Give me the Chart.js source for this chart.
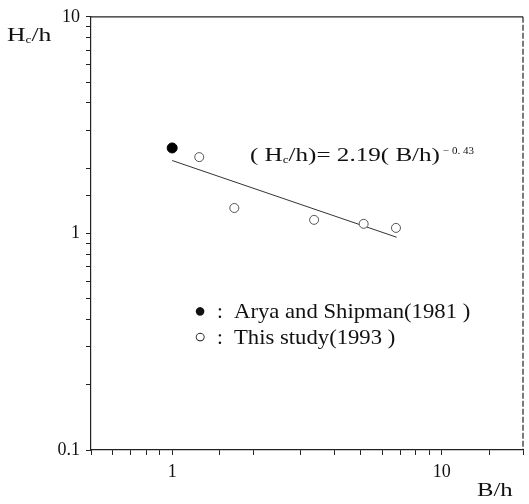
<!DOCTYPE html>
<html>
  <head>
    <script src="https://cdn.jsdelivr.net/npm/chart.js"></script>
    <style>
      body { margin: 0; background: #fff; }
      #wrap { width: 529px; height: 504px; }
    </style>
  </head>

  <body>
    <div id="wrap"><canvas id="plot" width="529" height="504"></canvas></div>
  </body>

  <script>
    // Arya and Shipman (1981)
    const arya_x = [1.0];
    const arya_y = [2.48];
    // This study (1993)
    const study_x = [1.26, 1.70, 3.36, 5.13, 6.76];
    const study_y = [2.25, 1.31, 1.155, 1.107, 1.06];
    // fitted line (H_c/h) = 2.19 (B/h)^-0.43, drawn end to end
    const fit_x = [1.0, 6.8];
    const fit_y = [2.17, 0.96];

    const x_labels = [1, 10];
    const y_labels = [0.1, 1, 10];

    const serif = "'Liberation Serif', 'DejaVu Serif', serif";

    function pairs(xs, ys) {
      return xs.map((x, i) => ({ x: x, y: ys[i] }));
    }

    // the printed type is wider than Times, so stretch it sideways
    function put(c, str, x, y, size, stretch) {
      c.save();
      c.font = size + "px " + serif;
      c.translate(x, y);
      c.scale(stretch, 1);
      c.fillText(str, 0, 0);
      const w = c.measureText(str).width * stretch;
      c.restore();
      return x + w;
    }

    // text drawn on top: axis names, the fit equation, the key
    const notes = {
      id: "notes",
      afterDraw(chart) {
        const c = chart.ctx;
        const area = chart.chartArea;
        c.save();
        c.fillStyle = "#111";
        c.textBaseline = "middle";

        // top and right border of the box
        c.strokeStyle = "#222";
        c.lineWidth = 1.2;
        c.beginPath();
        c.moveTo(area.left, area.top);
        c.lineTo(area.right, area.top);
        c.stroke();
        c.setLineDash([6, 2]);
        c.beginPath();
        c.moveTo(area.right, area.top);
        c.lineTo(area.right, area.bottom);
        c.stroke();
        c.setLineDash([]);

        // y axis name H_c/h
        let x = put(c, "H", 7, 36, 19, 1.35);
        x = put(c, "c", x, 40, 11, 1.2);
        put(c, "/h", x, 36, 19, 1.35);

        // x axis name
        put(c, "B/h", 477, 491, 19, 1.3);

        // equation
        x = put(c, "( H", 250, 156, 19, 1.32);
        x = put(c, "c", x, 160, 11, 1.2);
        x = put(c, "/h)= 2.19( B/h)", x, 156, 19, 1.32);
        put(c, "− 0. 43", x + 3, 151, 10, 1.1);

        // key
        put(c, "●", 194, 312, 20, 1);
        put(c, "○", 194, 338, 20, 1);
        put(c, ":", 217, 312, 21, 1);
        put(c, ":", 217, 338, 21, 1);
        put(c, "Arya and Shipman(1981 )", 234, 312, 21, 1.08);
        put(c, "This study(1993 )", 234, 338, 21, 1.08);
        c.restore();
      },
    };

    const tickFont = { family: serif, size: 18 };

    new Chart(document.getElementById("plot"), {
      type: "scatter",
      data: {
        datasets: [
          {
            label: "Arya and Shipman(1981)",
            data: pairs(arya_x, arya_y),
            pointRadius: 5,
            pointBackgroundColor: "#000",
            pointBorderColor: "#000",
          },
          {
            label: "This study(1993)",
            data: pairs(study_x, study_y),
            pointRadius: 4.5,
            pointBackgroundColor: "#fff",
            pointBorderColor: "#555",
            pointBorderWidth: 1,
          },
          {
            label: "fit",
            data: pairs(fit_x, fit_y),
            showLine: true,
            borderColor: "#333",
            borderWidth: 1,
            pointRadius: 0,
          },
        ],
      },
      options: {
        responsive: false,
        animation: false,
        layout: { padding: { top: 13, right: 2, left: 0, bottom: 0 } },
        plugins: {
          legend: { display: false },
          tooltip: { enabled: false },
        },
        scales: {
          x: {
            type: "logarithmic",
            min: 0.5,
            max: 20,
            border: { color: "#222", width: 1.2 },
            grid: { drawOnChartArea: false, tickLength: 5, color: "#222" },
            ticks: {
              autoSkip: false,
              maxRotation: 0,
              color: "#111",
              font: tickFont,
              padding: 6,
              callback: (v) => (x_labels.includes(v) ? String(v) : ""),
            },
            afterFit: (s) => { s.height = 54; },
          },
          y: {
            type: "logarithmic",
            min: 0.1,
            max: 10,
            border: { color: "#222", width: 1.2 },
            grid: { drawOnChartArea: false, tickLength: 5, color: "#222" },
            ticks: {
              autoSkip: false,
              color: "#111",
              font: tickFont,
              padding: 6,
              callback: (v) => (y_labels.includes(v) ? String(v) : ""),
            },
            afterFit: (s) => { s.width = 91; },
          },
        },
      },
      plugins: [notes],
    });
  </script>
</html>
